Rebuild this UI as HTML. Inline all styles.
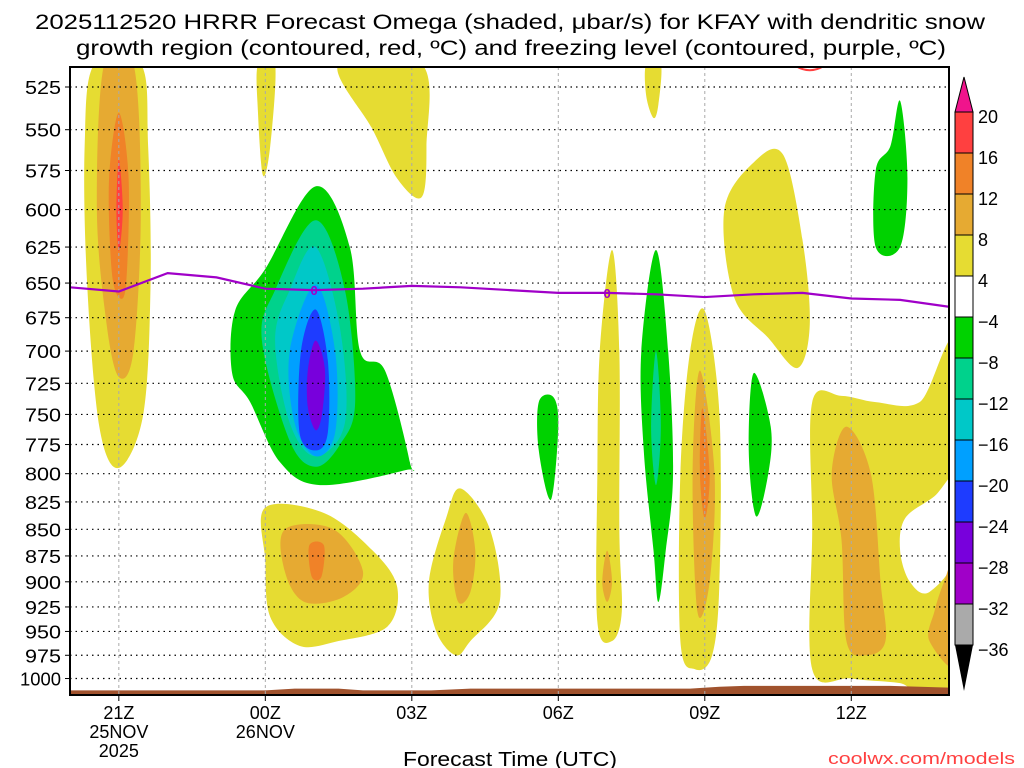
<!DOCTYPE html>
<html><head><meta charset="utf-8">
<style>
html,body{margin:0;padding:0;background:#fff;}
svg{display:block;font-family:"Liberation Sans",sans-serif;}
</style></head>
<body>
<svg id="chart" width="1024" height="768" viewBox="0 0 1024 768" xmlns="http://www.w3.org/2000/svg">
<text x="35" y="29" font-size="21" textLength="950" lengthAdjust="spacingAndGlyphs" fill="#000">2025112520 HRRR Forecast Omega (shaded, μbar/s) for KFAY with dendritic snow</text>
<text x="76" y="55" font-size="21" textLength="870" lengthAdjust="spacingAndGlyphs" fill="#000">growth region (contoured, red, ºC) and freezing level (contoured, purple, ºC)</text>
<g id="fills"></g>
<g id="grid"></g>
<g id="lines"></g>
<g id="axes"></g>
<g id="cbar"></g>
<text x="403" y="766" font-size="20" textLength="214" lengthAdjust="spacingAndGlyphs">Forecast Time (UTC)</text>
<text x="828" y="764" font-size="17" textLength="187" lengthAdjust="spacingAndGlyphs" fill="#ff4040">coolwx.com/models</text>
</svg>
<script>
// ---- data ----
const pressureTicks=[525,550,575,600,625,650,675,700,725,750,775,800,825,850,875,900,925,950,975,1000];
const hourTicks=[1,4,7,10,13,16];
const hourLabels=["21Z","00Z","03Z","06Z","09Z","12Z"];
const dateLabels=[["25NOV","2025"],["26NOV"],[],[],[],[]];
const cbarLevels=["20","16","12","8","4","−4","−8","−12","−16","−20","−24","−28","−32","−36"];
const cbarColors=["#ff4040","#f08228","#e6aa32","#e6dc32","#ffffff","#00d200","#00d28c","#00c8c8","#00a0ff","#1e3cff","#7800dc","#a000c8","#aaaaaa"];
const frzHours=[0,1,2,3,4,5,6,7,8,9,10,11,12,13,14,15,16,17,18];
const frzPres=[653,656,643,646,654,655,654,652,653,655,657,657,658,660,658,657,661,662,667];
const groundHours=[0,4,4.6,5.5,6,7.4,8.2,12.7,13.3,13.8,16.8,18];
const groundPres=[1013,1013,1011,1011,1013,1013,1011,1011,1009,1008,1008,1010];
// blobs: [colorIndex, [[hour,pressure],...]]
const blobs=[
[3,[[0.5,512],[1.45,512],[1.6,560],[1.65,650],[1.5,750],[1.0,795],[0.6,760],[0.35,650],[0.3,560]]],
[2,[[0.7,512],[1.3,512],[1.45,600],[1.3,700],[1.0,720],[0.75,680],[0.55,600]]],
[1,[[1.0,540],[1.2,580],[1.15,650],[1.0,660],[0.85,640],[0.8,580]]],
[0,[[1.0,568],[1.08,600],[1.0,628],[0.95,600]]],
[3,[[3.85,512],[4.2,512],[4.1,560],[3.95,578],[3.85,540]]],
[3,[[5.5,512],[7.2,512],[7.3,560],[7.2,592],[6.7,580],[6.2,550]]],
[3,[[11.8,512],[12.1,512],[12.05,535],[11.95,543],[11.8,530]]],
[5,[[5.03,585],[5.73,625],[5.94,700],[6.45,715],[6.96,790],[6.86,797],[5.12,810],[4.3,790],[3.69,740],[3.32,717],[3.38,670],[4.0,640]]],
[6,[[5.03,607],[5.63,655],[5.84,740],[5.53,775],[5.03,794],[4.5,772],[3.93,692],[4.2,655]]],
[7,[[5.03,625],[5.53,683],[5.63,757],[5.03,785],[4.5,757],[4.2,692],[4.5,655]]],
[8,[[5.03,651],[5.43,700],[5.43,765],[5.03,785],[4.6,757],[4.5,700]]],
[9,[[5.03,669],[5.28,707],[5.28,765],[5.03,780],[4.7,765],[4.73,700]]],
[10,[[5.03,692],[5.22,714],[5.16,750],[5.03,763],[4.87,744],[4.87,715]]],
[3,[[4.0,830],[5.2,835],[6.2,870],[6.7,905],[6.5,945],[5.5,960],[4.7,965],[4.1,935],[4.0,880]]],
[2,[[4.4,850],[5.4,850],[6.0,890],[5.6,915],[4.8,920],[4.4,890]]],
[1,[[4.9,865],[5.2,865],[5.15,895],[4.95,895]]],
[3,[[8.0,813],[8.6,850],[8.8,920],[8.2,960],[7.9,975],[7.5,950],[7.35,900],[7.7,840]]],
[2,[[8.1,835],[8.3,870],[8.2,910],[7.95,920],[7.85,880]]],
[5,[[9.6,740],[9.9,736],[10.0,760],[9.85,823],[9.6,780]]],
[3,[[11.1,627],[11.25,700],[11.25,850],[11.3,930],[11.1,960],[10.8,940],[10.8,800],[10.85,700]]],
[2,[[11.0,870],[11.1,900],[11.0,920],[10.9,900]]],
[5,[[12.0,627],[12.25,700],[12.35,800],[12.2,870],[12.05,920],[11.95,870],[11.75,780],[11.7,700]]],
[6,[[12.0,700],[12.1,760],[12.0,810],[11.9,760]]],
[3,[[13.0,670],[13.3,750],[13.3,900],[13.15,975],[12.8,990],[12.5,960],[12.5,800],[12.7,700]]],
[2,[[12.9,715],[13.2,800],[13.1,900],[12.85,930],[12.75,800]]],
[1,[[12.95,745],[13.1,800],[13.0,840],[12.9,800]]],
[5,[[14.0,717],[14.35,760],[14.3,800],[14.05,838],[13.9,780]]],
[3,[[14.6,565],[15.0,620],[15.15,680],[14.9,713],[14.3,690],[13.6,660],[13.4,600],[14.0,570]]],
[5,[[17.0,533],[17.15,580],[17.0,625],[16.5,625],[16.5,575],[16.8,560]]],
[3,[[15.2,740],[15.8,735],[16.5,740],[17.4,740],[18.2,700],[18.2,1015],[17,1005],[16,1000],[15.2,990],[15.2,850]]],
[4,[[17.1,840],[17.7,820],[18.2,800],[18.2,870],[17.6,910],[17.2,900],[17.0,870]]],
[2,[[15.9,760],[16.4,800],[16.6,900],[16.7,960],[16.3,975],[15.9,960],[15.8,860],[15.6,800]]],
[2,[[17.9,900],[18.2,870],[18.2,985],[17.6,960],[17.7,930]]]
];
// ---- axes ----
const X0=70,X1=949,Y0=67,Y1=695;
const xS=h=>X0+h*48.83;
const yS=p=>87+Math.log(p/525)*918;
const NS="http://www.w3.org/2000/svg";
function mk(tag,attrs,parent){const e=document.createElementNS(NS,tag);for(const k in attrs)e.setAttribute(k,attrs[k]);parent.appendChild(e);return e;}
function smoothPath(pts){
  const n=pts.length;let d=`M${pts[0][0]},${pts[0][1]}`;
  for(let i=0;i<n;i++){const p0=pts[(i-1+n)%n],p1=pts[i],p2=pts[(i+1)%n],p3=pts[(i+2)%n];
    const c1=[p1[0]+(p2[0]-p0[0])/6,p1[1]+(p2[1]-p0[1])/6],c2=[p2[0]-(p3[0]-p1[0])/6,p2[1]-(p3[1]-p1[1])/6];
    d+=`C${c1[0]},${c1[1]} ${c2[0]},${c2[1]} ${p2[0]},${p2[1]}`;}
  return d+"Z";
}
const svg=document.getElementById('chart');
const defs=mk('defs',{},svg);
const cp=mk('clipPath',{id:'plotclip'},defs);
mk('rect',{x:X0,y:Y0,width:X1-X0,height:Y1-Y0},cp);
const fills=document.getElementById('fills');
fills.setAttribute('clip-path','url(#plotclip)');
blobs.forEach((b,i)=>{
  const pts=b[1].map(q=>[xS(q[0]),yS(q[1])]);
  const el=mk('path',{d:smoothPath(pts),fill:cbarColors[b[0]]},fills);
  
  
});
// ground
let gd=`M${xS(groundHours[0])},${Y1}`;
groundHours.forEach((h,i)=>{gd+=`L${xS(h)},${yS(groundPres[i])}`;});
gd+=`L${xS(groundHours[groundHours.length-1])},${Y1}Z`;
const gr=mk('path',{d:gd,fill:'#a0522d'},fills);


// grid
const grid=document.getElementById('grid');
const axes=document.getElementById('axes');
pressureTicks.forEach(p=>{
  const y=yS(p);
  const l=mk('line',{x1:X0,x2:X1,y1:y,y2:y,stroke:'#000','stroke-width':1.2,'stroke-dasharray':'1.5,4'},grid);
  
  
  mk('line',{x1:X0-5,x2:X0,y1:y,y2:y,stroke:'#000','stroke-width':1},axes);
  const s=String(p);
  const w=s.length===4?41:36;
  const t=mk('text',{x:61-w,y:y+7,'font-size':18,textLength:w,lengthAdjust:'spacingAndGlyphs'},axes);
  t.textContent=s;
  
  
});
hourTicks.forEach((h,i)=>{
  const x=xS(h);
  const l=mk('line',{x1:x,x2:x,y1:Y0,y2:Y1,stroke:'#aaa','stroke-width':1,'stroke-dasharray':'3,3'},grid);
  
  
  mk('line',{x1:x,x2:x,y1:Y1,y2:Y1+6,stroke:'#000','stroke-width':1},axes);
  const labs=[hourLabels[i]].concat(dateLabels[i]);
  labs.forEach((s,j)=>{
    const t=mk('text',{x:x,y:719+j*19,'font-size':18,'text-anchor':'middle'},axes);
    t.textContent=s;
    
    
  });
});
// freezing level
const lineG=document.getElementById('lines');
lineG.setAttribute('clip-path','url(#plotclip)');
const fl=mk('polyline',{points:frzHours.map((h,i)=>xS(h)+','+yS(frzPres[i])).join(' '),fill:'none',stroke:'#a000c8','stroke-width':2.2},lineG);


[5,11].forEach(h=>{
  const i=frzHours.indexOf(h);
  const t=mk('text',{x:xS(h),y:yS(frzPres[i])+5,'font-size':13,'text-anchor':'middle',fill:'#a000c8','font-weight':'bold'},lineG);
  t.textContent='0';
  
  
});
const dg=mk('path',{d:`M${xS(14.8)},${yS(512)} Q${xS(15.15)},${yS(519)} ${xS(15.5)},${yS(512)}`,fill:'none',stroke:'#ff4040','stroke-width':2},lineG);


const fr=mk('rect',{x:X0,y:Y0,width:X1-X0,height:Y1-Y0,fill:'none',stroke:'#000','stroke-width':2},axes);


// colorbar
const cb=document.getElementById('cbar');
const CX=955,CW=18,CT=112,CS=41;
const cbTop=mk('polygon',{points:`${CX},${CT} ${CX+CW},${CT} ${CX+CW/2},${77}`,fill:'#f0148c',stroke:'#000','stroke-width':1},cb);


cbarColors.forEach((c,i)=>{
  const r=mk('rect',{x:CX,y:CT+i*CS,width:CW,height:CS,fill:c,stroke:'#000','stroke-width':1},cb);
  
  
});
const cbBot=mk('polygon',{points:`${CX},${CT+13*CS} ${CX+CW},${CT+13*CS} ${CX+CW/2},${691}`,fill:'#000'},cb);


cbarLevels.forEach((s,i)=>{
  const t=mk('text',{x:978,y:CT+i*CS+11,'font-size':18},cb);
  t.textContent=s;
  
  
});
</script>
</body></html>
